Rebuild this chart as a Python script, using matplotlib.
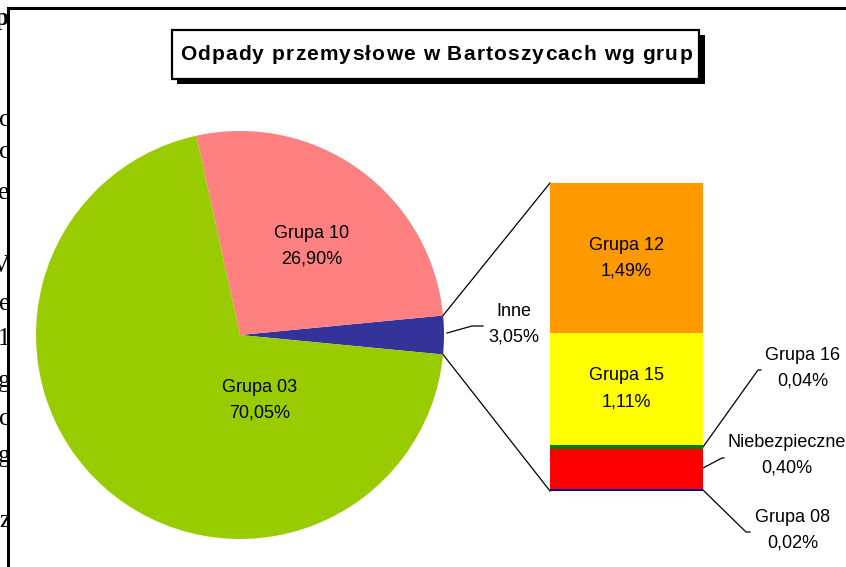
import matplotlib
matplotlib.use("Agg")
import matplotlib.pyplot as plt
from matplotlib.patches import Rectangle
import numpy as np

# ---- data ----
pie_labels = ["Inne", "Grupa 10", "Grupa 03"]
pie_values = [3.05, 26.90, 70.05]
pie_colors = ["#333399", "#FF8080", "#99CC00"]

bar_labels = ["Grupa 08", "Niebezpieczne", "Grupa 16", "Grupa 15", "Grupa 12"]
bar_values = [0.02, 0.40, 0.04, 1.11, 1.49]
bar_colors = ["#000080", "#FF0000", "#008000", "#FFFF00", "#FF9900"]

title = "Odpady przemysłowe w Bartoszycach wg grup"

def fmt(v):
    return f"{v:.2f}%".replace(".", ",")

W, H = 846, 567
fig = plt.figure(figsize=(W / 100, H / 100), dpi=100)
ax = fig.add_axes([0, 0, 1, 1])
ax.set_xlim(0, W)
ax.set_ylim(0, H)
ax.axis("off")

def Y(y):
    return H - y

FONT = "Liberation Sans"

# background document fragments (clipped by the chart frame)
frag = [("c", 126), ("c", 158), ("ie", 199), ("V", 272), ("e", 310), ("1", 345),
        ("g", 387), ("c", 425), ("g", 462), ("z", 527)]
for s, yb in frag:
    ax.text(10, Y(yb), s, ha="right", va="baseline", family="Liberation Serif",
            fontsize=18, color="black", zorder=0)
ax.text(9, Y(25), "p", ha="right", va="baseline", family="Liberation Serif",
        fontsize=18, fontweight="bold", zorder=0)

# chart frame
ax.add_patch(Rectangle((8.3, -10), W, Y(8.3) + 10, facecolor="white",
                       edgecolor="black", linewidth=2.2, zorder=1))

# title box with shadow
ax.add_patch(Rectangle((177, Y(84)), 528, 49, facecolor="black", edgecolor="none", zorder=2))
ax.add_patch(Rectangle((172, Y(79)), 527, 49, facecolor="white", edgecolor="black",
                       linewidth=1.6, zorder=3))

# title with letter spacing (drawn char by char)
renderer = fig.canvas.get_renderer()
tkw = dict(family=FONT, fontweight="bold", fontsize=15, va="baseline", ha="left", zorder=4)
def char_width(ch):
    if ch == " ":
        t1 = ax.text(0, 0, "a a", **tkw); t2 = ax.text(0, 0, "aa", **tkw)
        w = t1.get_window_extent(renderer).width - t2.get_window_extent(renderer).width
        t1.remove(); t2.remove()
        return w
    t = ax.text(0, 0, ch, **tkw)
    w = t.get_window_extent(renderer).width
    t.remove()
    return w
widths = [char_width(c) for c in title]
tx0, tx1 = 180, 692
gap = (tx1 - tx0 - sum(widths)) / (len(title) - 1)
x = tx0
for c, w in zip(title, widths):
    if c != " ":
        ax.text(x, Y(60), c, **tkw)
    x += w + gap

# pie
cx, cy, R = 240, Y(335), 204
half = pie_values[0] / sum(pie_values) * 360 / 2
wedges, _ = ax.pie(pie_values, colors=pie_colors, startangle=-half, counterclock=True,
                   center=(cx, cy), radius=R, frame=True,
                   wedgeprops=dict(linewidth=0, zorder=5))
ax.set_xlim(0, W)
ax.set_ylim(0, H)
ax.set_aspect("equal")
ax.axis("off")

lab_kw = dict(ha="center", va="center", family=FONT, fontsize=13, linespacing=1.67, zorder=8)
ax.text(312, Y(246), f"{pie_labels[1]}\n{fmt(pie_values[1])}", **lab_kw)
ax.text(260, Y(400), f"{pie_labels[2]}\n{fmt(pie_values[2])}", **lab_kw)
ax.text(514, Y(324), f"{pie_labels[0]}\n{fmt(pie_values[0])}", **lab_kw)
ax.plot([447, 472, 483], [Y(333), Y(326), Y(326)], color="black", lw=0.9, zorder=7)

# bar of pie
bx0, bx1, btop, bbot = 550, 703, 183, 491
bax = fig.add_axes([bx0 / W, (H - bbot) / H, (bx1 - bx0) / W, (bbot - btop) / H])
total = sum(bar_values)
bottoms = np.concatenate([[0], np.cumsum(bar_values)[:-1]])
bax.bar([0.5] * len(bar_values), bar_values, width=1.0, bottom=bottoms,
        color=bar_colors, linewidth=0)
bax.set_xlim(0, 1)
bax.set_ylim(0, total)
bax.axis("off")

for i in (3, 4):
    bax.text(0.5, bottoms[i] + bar_values[i] / 2, f"{bar_labels[i]}\n{fmt(bar_values[i])}",
             **{**lab_kw, "zorder": 5})

# connector lines from pie to bar
th1 = np.deg2rad(wedges[0].theta1)
th2 = np.deg2rad(wedges[0].theta2)
ax.plot([cx + R * np.cos(th2), bx0], [cy + R * np.sin(th2), Y(btop)], color="black", lw=0.9, zorder=7)
ax.plot([cx + R * np.cos(th1), bx0], [cy + R * np.sin(th1), Y(bbot)], color="black", lw=0.9, zorder=7)

# outside labels for small segments
ax.text(803, Y(368), f"{bar_labels[2]}\n{fmt(bar_values[2])}", **lab_kw)
ax.plot([703, 758, 761], [Y(447), Y(370), Y(370)], color="black", lw=0.9, zorder=7)
ax.text(787, Y(455), f"{bar_labels[1]}\n{fmt(bar_values[1])}", **lab_kw)
ax.plot([703, 722, 724], [Y(468), Y(458), Y(458)], color="black", lw=0.9, zorder=7)
ax.text(793, Y(530), f"{bar_labels[0]}\n{fmt(bar_values[0])}", **lab_kw)
ax.plot([703, 746, 750], [Y(490), Y(532), Y(532)], color="black", lw=0.9, zorder=7)

fig.savefig("out.png", dpi=100)
